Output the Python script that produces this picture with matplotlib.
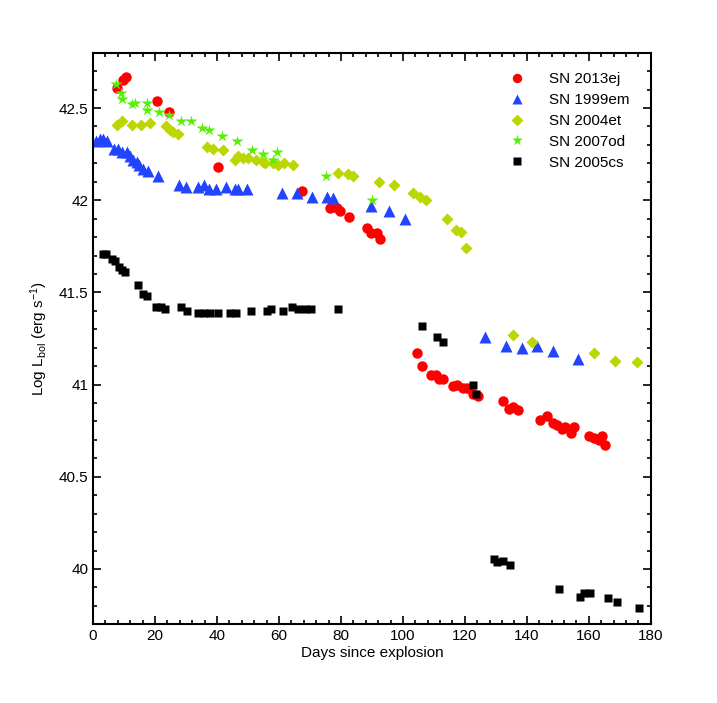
import matplotlib
matplotlib.use("Agg")
import matplotlib.pyplot as plt
from matplotlib.ticker import MultipleLocator

plt.rcParams['font.family'] = ['Liberation Sans', 'DejaVu Sans']
plt.rcParams['mathtext.fontset'] = 'custom'
plt.rcParams['mathtext.rm'] = 'Liberation Sans'
plt.rcParams['mathtext.it'] = 'Liberation Sans'

# SN 2013ej
ej_day = [7.8, 9.8, 10.6, 20.7, 24.6, 40.4, 67.5, 76.5, 78.6, 79.7, 82.6,
          88.5, 89.6, 91.5, 92.6, 104.6, 106.3, 109.2, 110.6, 111.7, 112.8,
          116.2, 117.6, 119.3, 120.7, 122.5, 124.3, 132.4, 134.3, 135.6, 137.2,
          144.2, 146.4, 148.3, 149.6, 151.2, 152.3, 154.1, 155.2, 160.0, 161.6,
          163.2, 164.3, 165.3]
ej_lum = [42.61, 42.65, 42.67, 42.54, 42.48, 42.18, 42.05, 41.96, 41.96, 41.94, 41.91,
          41.85, 41.82, 41.82, 41.79, 41.17, 41.10, 41.05, 41.05, 41.03, 41.03,
          40.99, 41.00, 40.98, 40.98, 40.95, 40.94, 40.91, 40.87, 40.88, 40.86,
          40.81, 40.83, 40.79, 40.78, 40.76, 40.77, 40.74, 40.77, 40.72, 40.71,
          40.70, 40.72, 40.67]

# SN 1999em
em_day = [1.0, 2.3, 3.3, 4.4, 6.8, 8.2, 9.2, 10.9, 11.9, 13.0, 14.1, 14.9, 16.0,
          17.8, 21.1, 27.8, 30.0, 33.8, 35.9, 37.5, 39.7, 42.9, 45.8, 46.9, 49.8,
          60.9, 65.9, 70.7, 75.4, 77.5, 89.7, 95.6, 100.6, 126.6, 133.2, 138.5,
          143.3, 148.3, 156.5]
em_lum = [42.32, 42.33, 42.33, 42.32, 42.28, 42.28, 42.26, 42.26, 42.24, 42.22,
          42.21, 42.19, 42.17, 42.16, 42.13, 42.08, 42.07, 42.07, 42.08, 42.06,
          42.06, 42.07, 42.06, 42.06, 42.06, 42.04, 42.04, 42.02, 42.02, 42.01,
          41.97, 41.94, 41.90, 41.26, 41.21, 41.20, 41.21, 41.18, 41.14]

# SN 2004et
et_day = [7.6, 9.5, 12.5, 15.5, 18.4, 23.5, 24.8, 25.9, 27.3, 36.7, 38.6, 41.8,
          45.8, 46.9, 48.5, 50.1, 52.5, 54.9, 55.5, 58.0, 59.8, 61.6, 64.6, 79.1,
          82.4, 84.0, 92.4, 97.2, 103.1, 105.5, 107.3, 114.1, 117.1, 118.6, 120.3,
          135.4, 141.5, 161.6, 168.4, 175.7]
et_lum = [42.41, 42.43, 42.41, 42.41, 42.42, 42.40, 42.38, 42.37, 42.36, 42.29,
          42.28, 42.27, 42.22, 42.24, 42.23, 42.23, 42.22, 42.21, 42.20, 42.20,
          42.19, 42.20, 42.19, 42.15, 42.14, 42.13, 42.10, 42.08, 42.04, 42.02,
          42.00, 41.90, 41.84, 41.83, 41.74, 41.27, 41.23, 41.17, 41.13, 41.12]

# SN 2007od
od_day = [7.4, 9.0, 9.5, 12.7, 13.5, 17.5, 17.5, 21.4, 24.5, 28.4, 31.5, 35.3,
          37.5, 41.5, 46.4, 51.4, 54.7, 58.2, 59.5, 75.2, 90.1]
od_lum = [42.63, 42.58, 42.55, 42.52, 42.53, 42.53, 42.49, 42.48, 42.46, 42.43,
          42.43, 42.39, 42.38, 42.35, 42.32, 42.27, 42.25, 42.22, 42.26, 42.13,
          42.00]

# SN 2005cs
cs_day = [3.3, 4.2, 6.0, 7.0, 8.5, 9.2, 10.3, 14.4, 16.2, 17.3, 20.3, 21.8, 23.2,
          28.3, 30.2, 34.0, 35.9, 37.7, 40.4, 44.2, 46.1, 50.9, 56.0, 57.4, 61.2,
          64.1, 66.2, 68.4, 70.5, 78.9, 106.1, 111.1, 113.0, 122.5, 123.5, 129.4,
          130.5, 132.4, 134.5, 150.4, 157.3, 158.4, 160.3, 166.2, 169.2, 176.2]
cs_lum = [41.71, 41.71, 41.68, 41.67, 41.64, 41.62, 41.61, 41.54, 41.49, 41.48,
          41.42, 41.42, 41.41, 41.42, 41.40, 41.39, 41.39, 41.39, 41.39, 41.39,
          41.39, 41.40, 41.40, 41.41, 41.40, 41.42, 41.41, 41.41, 41.41, 41.41,
          41.32, 41.26, 41.23, 41.00, 40.95, 40.055, 40.04, 40.045, 40.02, 39.89,
          39.85, 39.87, 39.87, 39.84, 39.82, 39.79]

fig = plt.figure(figsize=(7.17, 7.03), dpi=100)
ax = fig.add_axes([0.1297, 0.112, 0.778, 0.813])

ax.plot(ej_day, ej_lum, 'o', color='#FF0000', ms=7.5, mec='none', label='SN 2013ej')
ax.plot(em_day, em_lum, '^', color='#2244FF', ms=8, mec='none', label='SN 1999em')
ax.plot(et_day, et_lum, 'D', color='#BBD600', ms=6.5, mec='none', label='SN 2004et')
ax.plot(od_day, od_lum, '*', color='#55F000', ms=9, mec='none', label='SN 2007od')
ax.plot(cs_day, cs_lum, 's', color='black', ms=6, mec='none', label='SN 2005cs')

ax.set_xlim(0, 180)
ax.set_ylim(39.7, 42.8)
ax.xaxis.set_major_locator(MultipleLocator(20))
ax.xaxis.set_minor_locator(MultipleLocator(4))
ax.yaxis.set_major_locator(MultipleLocator(0.5))
ax.yaxis.set_minor_locator(MultipleLocator(0.1))
ax.yaxis.set_major_formatter(plt.FuncFormatter(lambda v, p: f'{v:g}'))
ax.tick_params(which='both', direction='in', top=True, right=True, labelsize=11)
ax.tick_params(which='major', length=6, width=1.2)
ax.tick_params(which='minor', length=3, width=1.2)
for s in ax.spines.values():
    s.set_linewidth(1.5)

ax.set_xlabel('Days since explosion', fontsize=11, labelpad=2)
ax.set_ylabel(r'Log L$_{\rm bol}$ (erg s$^{-1}$)', fontsize=11, labelpad=6)

ax.legend(loc='upper right', frameon=False, fontsize=11, markerscale=0.9,
          handlelength=1.0, handletextpad=1.6, labelspacing=0.45,
          bbox_to_anchor=(0.986, 0.99))

fig.savefig('out.png', dpi=100)
